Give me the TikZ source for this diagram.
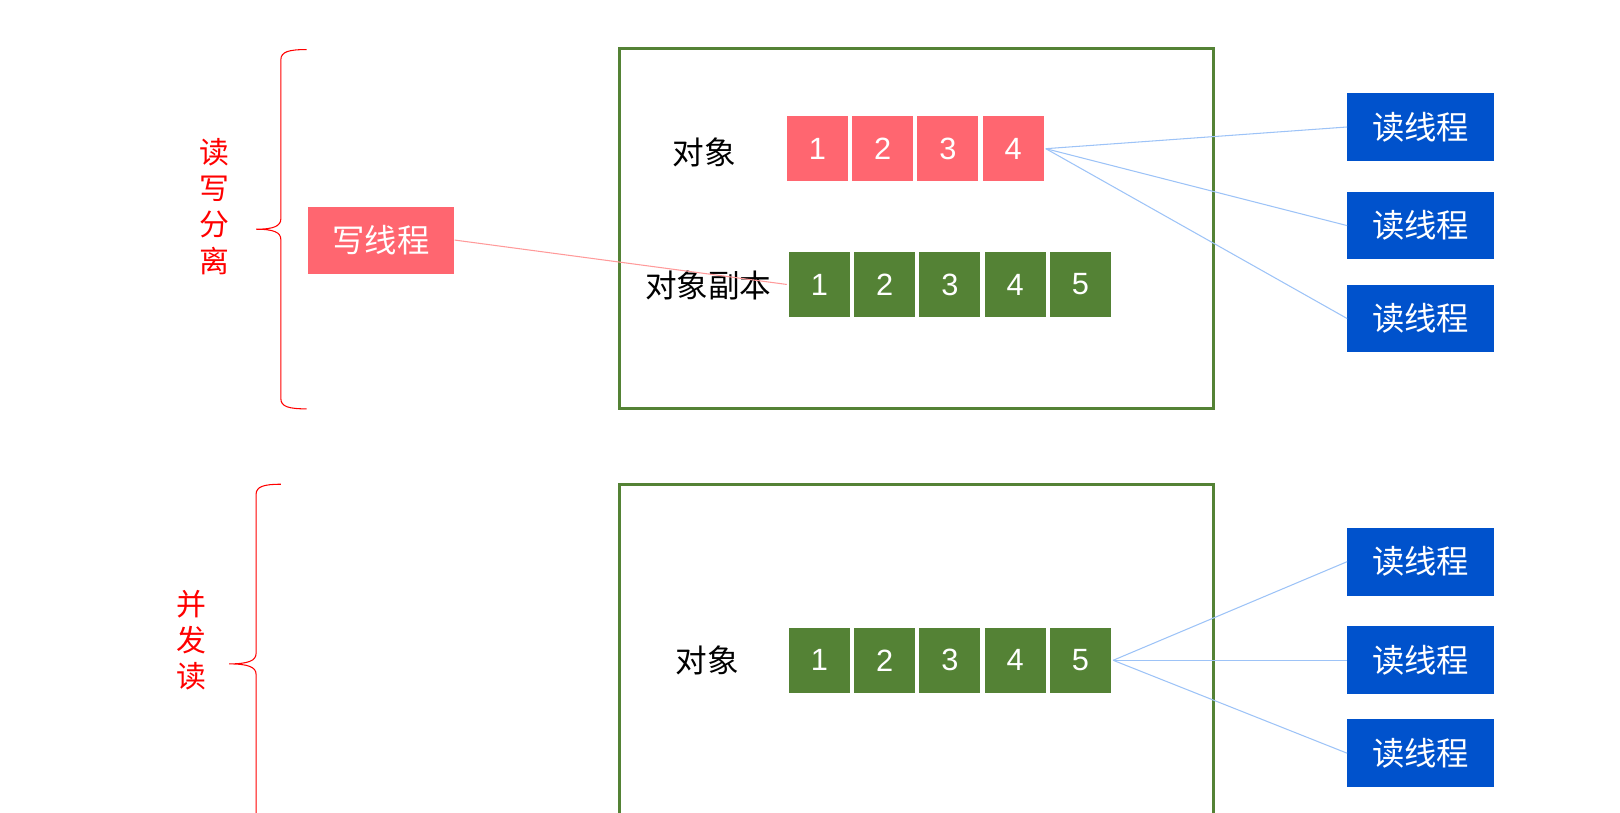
\documentclass[tikz,border=0pt]{standalone}
\usepackage{fontspec}
\setmainfont{Liberation Sans}
\newfontfamily\cjk{Noto Sans CJK SC}
\usepackage{xcolor}
\usepackage{tikz}
\usetikzlibrary{positioning}
\definecolor{pinkred}{HTML}{FF6670}
\definecolor{leafgreen}{HTML}{548235}
\definecolor{deepblue}{HTML}{0052CC}
\definecolor{paleblue}{HTML}{9DC3F7}
\definecolor{palered}{HTML}{FF9A9A}
\tikzstyle{cellr} = [rectangle, minimum width=1.263cm, minimum height=1.345cm, inner sep=0pt, draw=white, line width=1.2pt, fill=pinkred, text=white, font=\fontsize{17.5}{20}\selectfont]
\tikzstyle{cellg} = [cellr, fill=leafgreen]
\tikzstyle{reader} = [rectangle, minimum width=2.93cm, minimum height=1.355cm, inner sep=0pt, fill=deepblue, text=white, font=\cjk\fontsize{18.4}{21}\selectfont]
\tikzstyle{writer} = [reader, fill=pinkred, minimum height=1.34cm]
\tikzstyle{frame} = [draw=leafgreen, line width=1.75pt]
\tikzstyle{lbl} = [font=\cjk\fontsize{18}{21}\selectfont]
\tikzstyle{side} = [text=red, align=center, inner sep=0pt, font=\cjk\fontsize{17}{20.6}\selectfont]
\tikzstyle{bracer} = [draw=red, line width=0.6pt]
\tikzstyle{readline} = [draw=paleblue, line width=0.6pt]
\tikzstyle{writeline} = [draw=palered, line width=0.6pt]

\begin{document}
\begin{tikzpicture}[x=0.02065cm, y=-0.02065cm]
	\useasboundingbox (0,0) rectangle (1569,787.3);
	\clip (0,0) rectangle (1569,787.3);

	% read-write split
	\draw [frame] (600,47) rectangle (1175,396);
	\draw [bracer] (297,48) .. controls (280,48) and (272,50) .. (272,58) -- (272,212) .. controls (272,219) and (265,222) .. (248,222) .. controls (265,222) and (272,225) .. (272,232) -- (272,386) .. controls (272,394) and (280,396) .. (297,396);
	\node (split) [side] at (208,200) {读\\写\\分\\离};
	\node (writer) [writer] at (369,232.5) {写线程};
	\node (obj) [lbl] at (682,148) {对象};
	\node (copy) [lbl] at (686,276) {对象副本};

	\node (r1) [cellr] at (791.6,144) {1};
	\node (r2) [cellr, right=0pt of r1] {2};
	\node (r3) [cellr, right=0pt of r2] {3};
	\node (r4) [cellr, right=0pt of r3] {4};

	\node (c1) [cellg] at (793.6,275.5) {1};
	\node (c2) [cellg, right=0pt of c1] {2};
	\node (c3) [cellg, right=0pt of c2] {3};
	\node (c4) [cellg, right=0pt of c3] {4};
	\node (c5) [cellg, right=0pt of c4] {5};

	\node (rd1) [reader] at (1376,123) {读线程};
	\node (rd2) [reader] at (1376,218.5) {读线程};
	\node (rd3) [reader] at (1376,308.5) {读线程};

	\draw [writeline] (writer.east) -- (c1.west);
	\draw [readline] (r4.east) -- (rd1.west);
	\draw [readline] (r4.east) -- (rd2.west);
	\draw [readline] (r4.east) -- (rd3.west);

	% concurrent read
	\draw [frame] (600,469) rectangle (1175,840);
	\draw [bracer] (272,469) .. controls (256,469) and (248,471) .. (248,479) -- (248,633) .. controls (248,640) and (240,643) .. (222,643) .. controls (240,643) and (248,646) .. (248,653) -- (248,807) .. controls (248,815) and (256,817) .. (272,817);
	\node (conc) [side] at (185,620) {并\\发\\读};
	\node (obj2) [lbl] at (685,640) {对象};

	\node (g1) [cellg] at (793.6,639.5) {1};
	\node (g2) [cellg, right=0pt of g1] {2};
	\node (g3) [cellg, right=0pt of g2] {3};
	\node (g4) [cellg, right=0pt of g3] {4};
	\node (g5) [cellg, right=0pt of g4] {5};

	\node (rd4) [reader] at (1376,544) {读线程};
	\node (rd5) [reader] at (1376,639.5) {读线程};
	\node (rd6) [reader] at (1376,729.5) {读线程};

	\draw [readline] (g5.east) -- (rd4.west);
	\draw [readline] (g5.east) -- (rd5.west);
	\draw [readline] (g5.east) -- (rd6.west);

\end{tikzpicture}
\end{document}
